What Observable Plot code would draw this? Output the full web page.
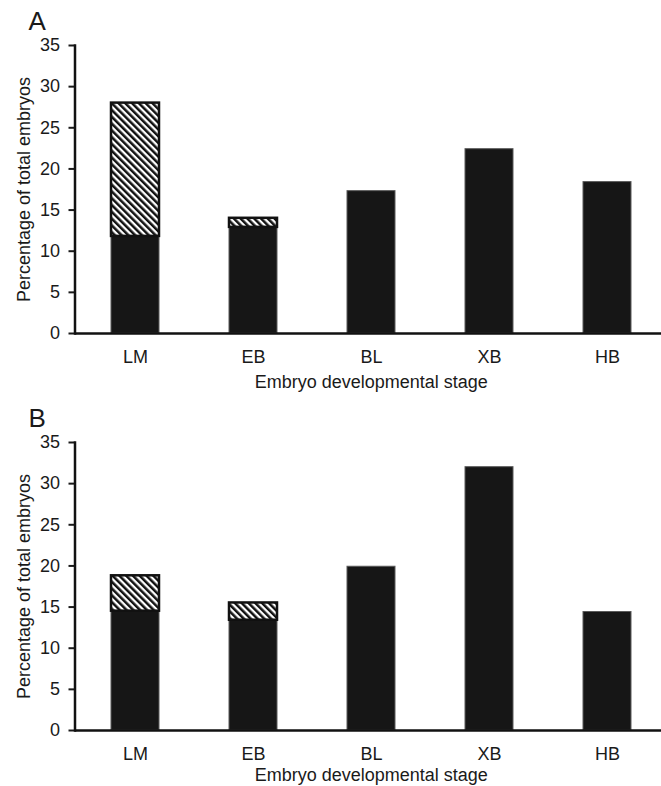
<!DOCTYPE html>
<html>
<head>
<meta charset="utf-8">
<script src="https://cdn.jsdelivr.net/npm/d3@7"></script>
<script src="https://cdn.jsdelivr.net/npm/@observablehq/plot@0.6"></script>
<style>
html, body { margin: 0; padding: 0; overflow: hidden; background: white; }
#chart svg { display: block; }
</style>
</head>
<body>
<div id="chart"></div>
<script>
const stages = ["LM", "EB", "BL", "XB", "HB"];
const panelLabels = ["A", "B"];
const solidA = [11.8, 12.9, 17.3, 22.4, 18.4];
const hatchA = [16.2, 1.1, 0, 0, 0];
const solidB = [14.5, 13.4, 19.9, 32.0, 14.4];
const hatchB = [4.3, 2.1, 0, 0, 0];
const yTicks = [0, 5, 10, 15, 20, 25, 30, 35];
const yTitle = "Percentage of total embryos";
const xTitle = "Embryo developmental stage";

function panel(label, solid, hatch, pid, titleDy) {
  const solidRows = stages.map((s, i) => ({stage: s, y1: 0, y2: solid[i]}));
  const hatchRows = stages.map((s, i) => ({stage: s, y1: solid[i], y2: solid[i] + hatch[i]})).filter(d => d.y2 > d.y1);
  const svg = Plot.plot({
    width: 661,
    height: 397,
    marginTop: 45,
    marginBottom: 64,
    marginLeft: 74.5,
    marginRight: 0,
    style: {fontFamily: "'Liberation Sans', Arial, sans-serif", fontSize: "18px", color: "#1a1a1a", background: "white"},
    x: {domain: stages, range: [74.5, 667], paddingInner: 0.59, paddingOuter: 0.295, label: null},
    y: {domain: [0, 35], label: null},
    marks: [
      Plot.barY(solidRows, {x: "stage", y1: "y1", y2: "y2", fill: "#161616", stroke: "#5a5a5a", strokeWidth: 1}),
      Plot.barY(hatchRows, {x: "stage", y1: "y1", y2: "y2", fill: `url(#${pid})`, stroke: "#111", strokeWidth: 2.5}),
      Plot.axisY({ticks: yTicks, tickSize: 6, tickPadding: 9, strokeWidth: 2, label: null, fontSize: 18}),
      Plot.axisX({tickSize: 0, tickPadding: 17, label: null, fontSize: 18}),
      Plot.ruleY([0], {strokeWidth: 2.5, stroke: "#111"}),
      Plot.frame({anchor: "left", strokeWidth: 2.5, stroke: "#111"}),
      Plot.text([yTitle], {frameAnchor: "left", rotate: -90, textAnchor: "middle", lineAnchor: "top", dx: -57.5, fontSize: 18}),
      Plot.text([xTitle], {frameAnchor: "bottom", lineAnchor: "top", dx: 3, dy: titleDy, fontSize: 18}),
      Plot.text([label], {frameAnchor: "top-left", textAnchor: "start", lineAnchor: "top", dx: -46.5, dy: -33.5, fontSize: 26})
    ]
  });
  const defs = d3.select(svg).insert("defs", ":first-child");
  const pat = defs.append("pattern")
    .attr("id", pid)
    .attr("patternUnits", "userSpaceOnUse")
    .attr("width", 4.8)
    .attr("height", 4.8)
    .attr("patternTransform", "rotate(-45)");
  pat.append("rect").attr("width", 4.8).attr("height", 4.8).attr("fill", "white");
  pat.append("rect").attr("width", 2.5).attr("height", 4.8).attr("fill", "#111");
  return svg;
}

const chart = document.getElementById("chart");
chart.appendChild(panel(panelLabels[0], solidA, hatchA, "hatchA", 41.5));
chart.appendChild(panel(panelLabels[1], solidB, hatchB, "hatchB", 38));
</script>
</body>
</html>
